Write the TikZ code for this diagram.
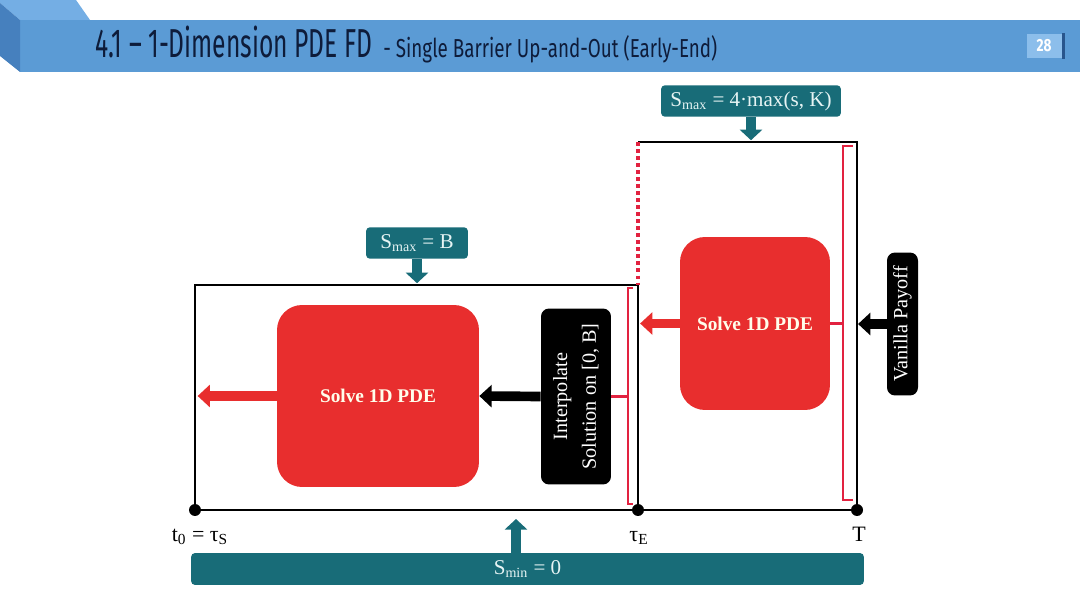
\documentclass[tikz,border=0pt]{standalone}
\usepackage{fontspec}
\usepackage{graphicx}
\setmainfont{Liberation Serif}
\newfontfamily\titlefont{Fira Sans}
\usetikzlibrary{arrows.meta,calc}
\definecolor{hdr}{RGB}{91,155,213}
\definecolor{hdrtop}{RGB}{116,174,228}
\definecolor{hdrside}{RGB}{70,128,190}
\definecolor{navy}{RGB}{14,28,58}
\definecolor{pgbox}{RGB}{140,190,235}
\definecolor{pgshadow}{RGB}{40,85,140}
\definecolor{tealbox}{RGB}{24,108,120}
\definecolor{tealtext}{RGB}{230,244,244}
\definecolor{redbox}{RGB}{232,46,46}
\definecolor{brk}{RGB}{226,34,64}
\begin{document}
\begin{tikzpicture}[x=0.02cm,y=-0.02cm,
  frame/.style={line width=1.5pt, black},
  dot/.style={circle, fill=black, inner sep=0pt, minimum size=0.24cm},
  lbl/.style={font=\fontsize{12.5}{14}\selectfont, inner sep=1pt},
  tealnode/.style={fill=tealbox, text=tealtext, rounded corners=0.08cm, inner sep=0pt, font=\fontsize{12}{14}\selectfont},
  redsolve/.style={fill=redbox, rounded corners=0.5cm, text=white!92!yellow, font=\bfseries\fontsize{11}{13}\selectfont, inner sep=0pt},
  blackbox/.style={fill=black, text=white, rounded corners=0.16cm, font=\fontsize{11.5}{16.4}\selectfont, inner sep=0pt, align=center},
  redarr/.style={draw=redbox, line width=5.2pt, -{Triangle[length=7pt,width=12.5pt]}},
  blackarr/.style={draw=black, line width=5.5pt, -{Triangle[length=7pt,width=12.5pt]}},
  tealarr/.style={draw=tealbox, line width=5.2pt, -{Triangle[length=6pt,width=12.5pt]}},
  brkline/.style={draw=brk, line width=1.2pt}
]
\useasboundingbox (0,0) rectangle (1080,608);
% header
\fill[hdr] (20,20) rectangle (1080,72);
\fill[hdrtop] (0,0) -- (76,0) -- (90,20) -- (20,20) -- (0,3) -- cycle;
\fill[hdrside] (0,3) -- (20,20) -- (20,72) -- (0,56) -- cycle;
\node[anchor=base west, inner sep=0pt, text=navy] (title) at (95,58)
  {\resizebox{5.54cm}{\height}{\titlefont\fontsize{23}{23}\selectfont 4.1 – 1-Dimension PDE FD}};
\node[anchor=base west, inner sep=0pt, text=navy] (subtitle) at (383,58)
  {\resizebox{6.68cm}{\height}{\titlefont\fontsize{14.8}{15}\selectfont - Single Barrier Up-and-Out (Early-End)}};
\node[fill=pgbox, minimum width=0.7cm, minimum height=0.5cm, inner sep=0pt, text=white] (pg) at (1044,46)
  {\resizebox{0.3cm}{\height}{\titlefont\bfseries\fontsize{10}{10}\selectfont 28}};
\fill[pgshadow] (pg.north east) rectangle ($(pg.south east)+(3,0)$);

% frame coordinates
\coordinate (LT) at (195,285);
\coordinate (LB) at (195,510);
\coordinate (MT) at (638,285);
\coordinate (MB) at (638,510);
\coordinate (RTl) at (638,142);
\coordinate (RT) at (857,142);
\coordinate (RB) at (857,510);
\draw[frame] (LB) -- (LT) -- (MT) -- (MB);
\draw[frame] (LB) -- (RB) -- (RT) -- (RTl);
\draw[draw=brk, line width=2.2pt, dash pattern=on 2pt off 2pt] (RTl) -- (MT);

% dots and labels
\node[dot] (d0) at (LB) {};
\node[dot] (dE) at (MB) {};
\node[dot] (dT) at (RB) {};
\node[lbl, anchor=base] (t0lbl) at (200,541) {t\textsubscript{0} = τ\textsubscript{S}};
\node[lbl, anchor=base] (tElbl) at (639,541) {τ\textsubscript{E}};
\node[lbl, anchor=base] (Tlbl) at (859,541) {T};

% teal boxes
\node[tealnode, minimum width=13.46cm, minimum height=0.64cm] (tmin) at (527.5,569) {S\textsubscript{min} = 0};
\node[tealnode, minimum width=2.04cm, minimum height=0.63cm] (tB) at (417,243) {S\textsubscript{max} = B};
\node[tealnode, minimum width=3.6cm, minimum height=0.63cm] (t4) at (751,101) {S\textsubscript{max} = 4·max(s, K)};

% red boxes
\node[redsolve, minimum width=4.04cm, minimum height=3.64cm] (lsolve) at (378,396) {Solve 1D PDE};
\node[redsolve, minimum width=3.0cm, minimum height=3.46cm] (rsolve) at (755,323.5) {Solve 1D PDE};

% black boxes (rotated: north = left side, south = right side)
\node[blackbox, rotate=90, minimum width=3.52cm, minimum height=1.4cm] (interp) at (576,396.5) {Interpolate\\Solution on [0, B]};
\node[blackbox, rotate=90, minimum width=2.86cm, minimum height=0.62cm] (vanilla) at (902.5,324) {Vanilla Payoff};

% brackets
\coordinate (lbr) at (628,396);
\coordinate (rbr) at (843,323);
\draw[brkline] (633,288) -- (628,288) -- (628,504) -- (633,504);
\draw[brkline] (interp.south) -- (interp.south -| lbr);
\draw[brkline] (853,146) -- (843,146) -- (843,500) -- (853,500);
\draw[brkline] (rsolve.east) -- (rsolve.east -| rbr);

% arrows
\draw[redarr, shorten >=1.5pt] (lsolve.west) -- (lsolve.west -| LT);
\draw[redarr, shorten >=1.2pt] (rsolve.west) -- (rsolve.west -| MT);
\draw[blackarr] (interp.north) -- (lsolve.east);
\draw[blackarr, shorten >=0.6pt] (vanilla.north) -- (vanilla.north -| RT);
\draw[tealarr, shorten >=1pt] (tB.south) -- (tB.south |- LT);
\draw[tealarr, shorten >=1pt] (t4.south) -- (t4.south |- RT);
\coordinate (smintip) at (516,519);
\draw[tealarr] (tmin.north -| smintip) -- (smintip);
\end{tikzpicture}
\end{document}
